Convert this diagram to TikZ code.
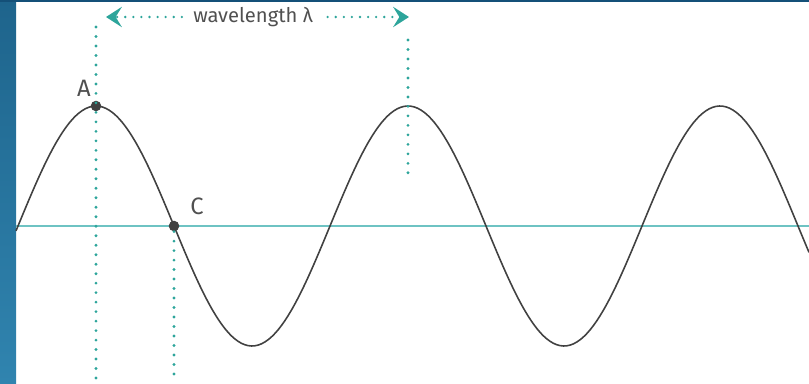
\documentclass[tikz,border=0pt]{standalone}
\usepackage{fontspec}
\setmainfont{Fira Sans}
\usepackage{xcolor}
\definecolor{wvteal}{RGB}{45,165,155}
\definecolor{wvaxis}{RGB}{110,195,195}
\definecolor{wvgray}{RGB}{80,80,80}
\definecolor{wvcurve}{RGB}{65,65,65}
\definecolor{bordertop}{RGB}{30,100,140}
\definecolor{borderbot}{RGB}{48,132,175}
\definecolor{borderstrip}{RGB}{20,80,120}
\usetikzlibrary{arrows.meta, positioning}

\tikzset{
  dotline/.style={wvteal, line width=1.8pt, line cap=round, dash pattern=on 0pt off 5.4pt},
  hdotline/.style={wvteal, line width=1.5pt, line cap=round, dash pattern=on 0pt off 4.6pt},
  tiparrow/.style={-{Stealth[length=9pt, width=11.5pt, inset=3.5pt]}},
  pointdot/.style={circle, fill=wvcurve, inner sep=0pt, minimum size=6pt},
  ptlabel/.style={font=\fontsize{13.5}{15}\selectfont, wvgray}
}

\begin{document}
\begin{tikzpicture}[x=0.02cm, y=0.02cm]
  \useasboundingbox (0,0) rectangle (809,383);

  % --- Frame ---
  \fill[top color=bordertop, bottom color=borderbot] (0,0) rectangle (16,383);
  \fill[borderstrip] (0,381) rectangle (809,383);

  % --- Axis and wave ---
  \coordinate (axL) at (16,157);
  \coordinate (axR) at (809,157);
  \draw[wvaxis, line width=1.3pt] (axL) -- (axR);
  \draw[wvcurve, line width=0.9pt] plot[domain=16:809, samples=240, smooth] (\x, {157+120*cos(1.153846*(\x-96))});

  % --- Marked points ---
  \node[pointdot] (A) at (96,277) {};
  \node[pointdot] (C) at (174,157) {};
  \node[ptlabel] (Alab) at (84,295) {A};
  \node[ptlabel] (Clab) at (197,177) {C};

  % Dotted guide lines
  \coordinate (Atop) at (96,356);
  \coordinate (Abot) at (96,0);
  \coordinate (Cbot) at (174,0);
  \coordinate (Btop) at (408,343);
  \coordinate (Bbot) at (408,208);
  \draw[dotline] (Atop) -- (Abot);
  \draw[dotline] (C) -- (Cbot);
  \draw[dotline] (Btop) -- (Bbot);

  % --- Wavelength arrow ---
  \node[font=\fontsize{11.5}{13}\selectfont, wvgray] (wl) at (253,366) {wavelength λ};
  \coordinate (lTip) at (106,366);
  \coordinate (rTip) at (409,366);
  \draw[hdotline, tiparrow] ([xshift=-3pt]wl.west) -- (lTip);
  \draw[hdotline, tiparrow] ([xshift=5pt]wl.east) -- (rTip);
\end{tikzpicture}
\end{document}
